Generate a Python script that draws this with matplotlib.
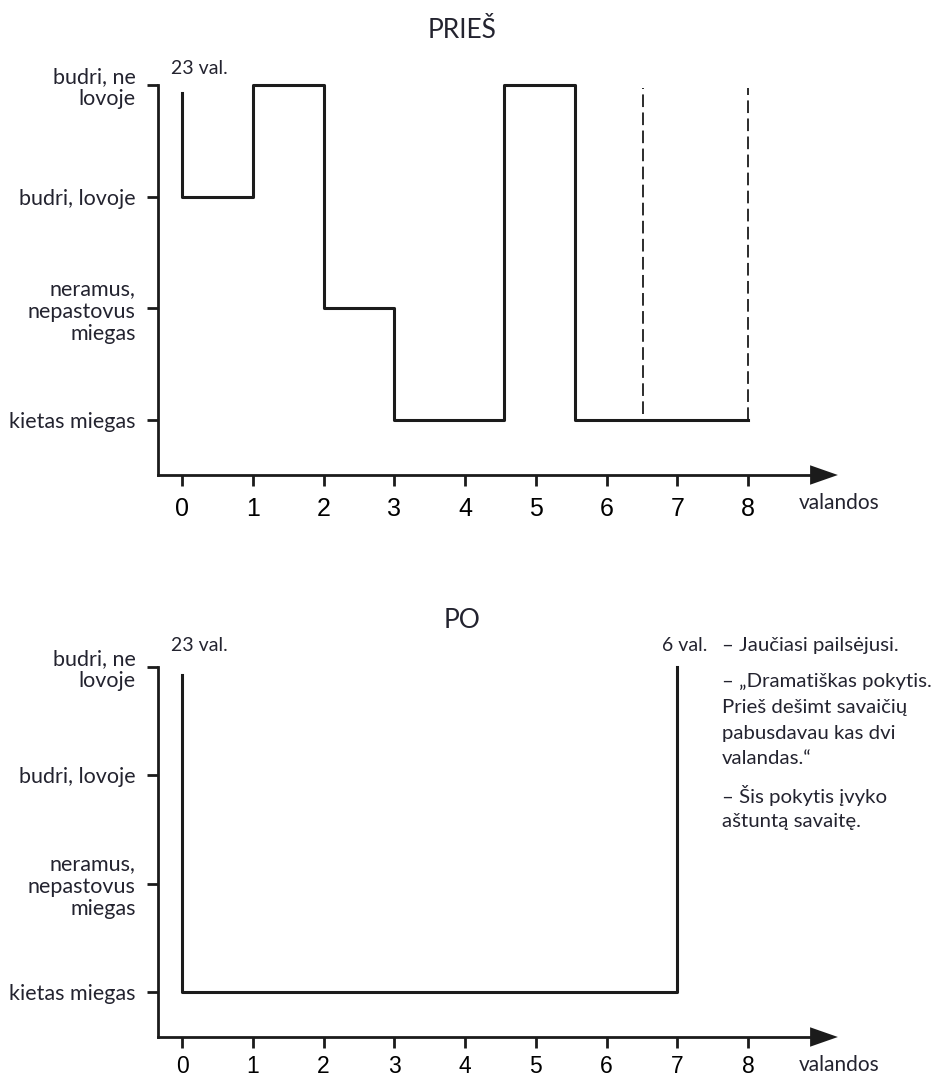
import matplotlib
matplotlib.use('Agg')
import matplotlib.pyplot as plt

plt.rcParams['font.family'] = ['Lato', 'DejaVu Sans']

# data
state_labels = ['kietas miegas', 'neramus,\nnepastovus\nmiegas', 'budri, lovoje', 'budri, ne\nlovoje']
hour_ticks = [0, 1, 2, 3, 4, 5, 6, 7, 8]

before_hours = [0, 0, 1, 2, 3, 4.55, 5.55, 8]
before_levels = [2.93, 2, 3, 1, 0, 3, 0, 0]
before_dashed = [6.52, 8]
before_dashed_top = [2.97, 2.97]
before_dashed_bottom = [0.06, 0]

after_hours = [0, 0, 7, 7]
after_levels = [2.93, 0, 0, 3]

notes = [
    ['– Jaučiasi pailsėjusi.'],
    ['– „Dramatiškas pokytis.', 'Prieš dešimt savaičių', 'pabusdavau kas dvi', 'valandas.“'],
    ['– Šis pokytis įvyko', 'aštuntą savaitę.'],
]

ink = '#1b1b1b'
txt = '#23232f'
W, H = 939, 1078


def setup_axes(ax, ymin, xpad, xsize):
    ax.set_xlim(-0.34, 9.3)
    ax.set_ylim(ymin, 3)
    for s in ['top', 'right']:
        ax.spines[s].set_visible(False)
    for s in ['left', 'bottom']:
        ax.spines[s].set_linewidth(2)
        ax.spines[s].set_color(ink)
    ax.spines['bottom'].set_bounds(-0.34, 8.9)
    ax.set_xticks(hour_ticks)
    ax.set_xticklabels([str(h) for h in hour_ticks], family=['Liberation Sans', 'DejaVu Sans'],
                       fontsize=xsize, color='black')
    ax.set_yticks(range(len(state_labels)))
    ax.set_yticklabels(state_labels, fontsize=15.5, color=txt, ha='right', linespacing=1.15)
    ax.tick_params(axis='x', direction='out', length=8, width=2, pad=xpad, color=ink)
    ax.tick_params(axis='y', direction='out', length=8, width=2, pad=8, color=ink)
    ax.annotate('', xy=(9.27, ymin), xytext=(8.8, ymin), annotation_clip=False,
                arrowprops=dict(width=0.1, headwidth=14, headlength=20, shrink=0,
                                facecolor=ink, edgecolor=ink, lw=0))
    ax.annotate('valandos', xy=(8.72, ymin), xytext=(0, -20), textcoords='offset points',
                fontsize=15, color=txt, ha='left', va='center', annotation_clip=False)


fig = plt.figure(figsize=(W / 100, H / 100), dpi=100)

# PRIEŠ
ax1 = fig.add_axes([158 / W, 1 - 475 / H, 682 / W, 390 / H])
setup_axes(ax1, -0.49, 8, 18)
ax1.plot(before_hours, before_levels, drawstyle='steps-post', color=ink, lw=2.2, clip_on=False)
ax1.vlines(before_dashed, before_dashed_bottom, before_dashed_top, colors=ink, lw=1.3,
           linestyles=(0, (7, 3)))
ax1.text(-0.15, 3.15, '23 val.', fontsize=14, color=txt, ha='left', va='center', clip_on=False)
fig.text(462 / W, 1 - 30 / H, 'PRIEŠ', fontsize=19, color=txt, ha='center', va='center')

# PO
ax2 = fig.add_axes([158 / W, 1 - 1037 / H, 682 / W, 370 / H])
setup_axes(ax2, -0.415, 5, 16.5)
ax2.plot(after_hours, after_levels, drawstyle='steps-post', color=ink, lw=2.2, clip_on=False)
ax2.text(-0.15, 3.2, '23 val.', fontsize=14, color=txt, ha='left', va='center', clip_on=False)
ax2.text(7.42, 3.2, '6 val.', fontsize=14, color=txt, ha='right', va='center', clip_on=False)
fig.text(462 / W, 1 - 620 / H, 'PO', fontsize=19, color=txt, ha='center', va='center')

y = 645
for para in notes:
    for line in para:
        fig.text(722 / W, 1 - y / H, line, fontsize=14.7, color=txt, ha='left', va='center')
        y += 26
    y += 10

fig.savefig('out.png', dpi=100, facecolor='white')
